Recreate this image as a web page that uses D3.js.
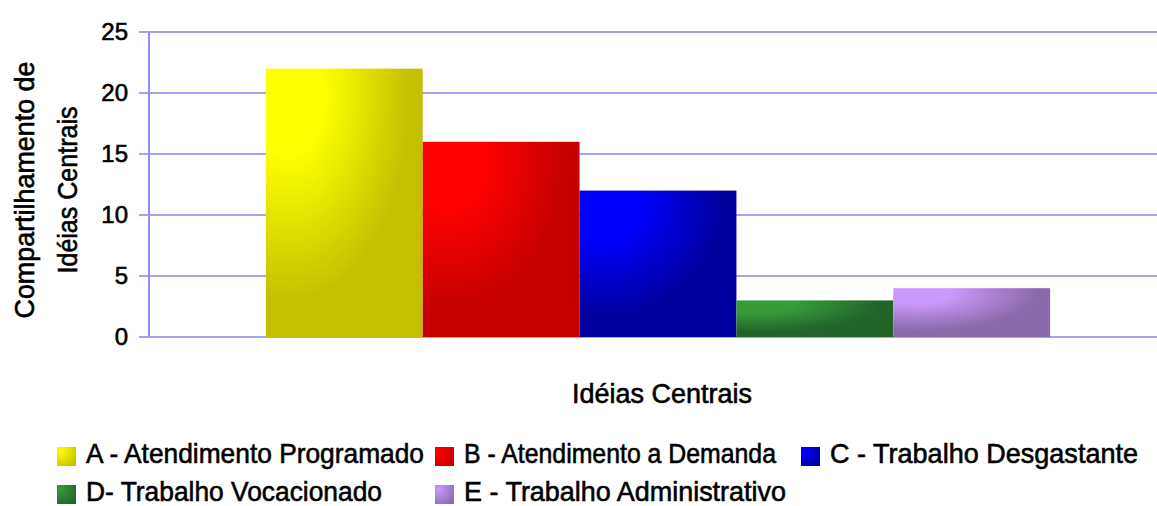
<!DOCTYPE html>
<html><head><meta charset="utf-8">
<script src="https://cdn.jsdelivr.net/npm/d3@7"></script>
<style>
html,body{margin:0;padding:0;background:#fff;}
text{font-family:"Liberation Sans",Arial,sans-serif;}
</style></head>
<body>
<svg id="chart" width="1157" height="506"></svg>
<script>
const seriesNames = ["A - Atendimento Programado","B - Atendimento a Demanda","C - Trabalho Desgastante","D- Trabalho Vocacionado","E - Trabalho Administrativo"];
const seriesValues = [22, 16, 12, 3, 4];
const lightColors = ["#ffff00","#ff0000","#0000ff","#389b38","#c998fa"];
const darkColors = ["#c4c000","#c60000","#00009c","#21642a","#8a6aab"];
const yTicks = [0,5,10,15,20,25];
const yTitleLines = ["Compartilhamento de","Idéias Centrais"];
const xTitle = "Idéias Centrais";

(function(){
const svg = d3.select("#chart");
const mLeft = 149, mRight = 1167, mTop = 32, mBottom = 337;
// layout: fitted text widths (px) for the narrow font of the original
const legendWidths = [338, 312, 308, 296, 322];
const legPos = [[57,463],[435,463],[801,463],[57,501],[435,501]];
const textStroke = 0.6;

const defs = svg.append("defs");
seriesNames.forEach((s,i)=>{
  const g = defs.append("radialGradient").attr("id","g"+i)
    .attr("cx",0.15).attr("cy",0.1).attr("fx",0.15).attr("fy",0.1).attr("r",0.9);
  g.append("stop").attr("offset",0).attr("stop-color",lightColors[i]);
  g.append("stop").attr("offset",0.25).attr("stop-color",lightColors[i]);
  g.append("stop").attr("offset",0.85).attr("stop-color",darkColors[i]);
  g.append("stop").attr("offset",1).attr("stop-color",darkColors[i]);
  const lg = defs.append("radialGradient").attr("id","l"+i)
    .attr("cx",0.2).attr("cy",0.2).attr("r",1);
  lg.append("stop").attr("offset",0).attr("stop-color",lightColors[i]);
  lg.append("stop").attr("offset",1).attr("stop-color",darkColors[i]);
});

const y = d3.scaleLinear().domain([0,25]).range([mBottom,mTop]);
const x = d3.scaleBand().domain(seriesNames).range([mLeft,mRight]).paddingInner(0).paddingOuter(0.745);

svg.append("g").selectAll("line").data(yTicks).join("line")
  .attr("x1",mLeft-10).attr("x2",1157).attr("y1",d=>y(d)).attr("y2",d=>y(d))
  .attr("stroke","#a3a3f0").attr("stroke-width",2);

svg.append("g").selectAll("rect").data(seriesValues).join("rect")
  .attr("x",(d,i)=>x(seriesNames[i])).attr("width",x.bandwidth())
  .attr("y",d=>y(d)).attr("height",d=>mBottom-y(d))
  .attr("fill",(d,i)=>`url(#g${i})`);

svg.append("line").attr("x1",mLeft).attr("x2",mLeft).attr("y1",mTop).attr("y2",mBottom)
  .attr("stroke","#8c8cf5").attr("stroke-width",2);

const yAxis = d3.axisLeft(y).tickValues(yTicks).tickSize(0).tickPadding(0);
const ya = svg.append("g").attr("transform",`translate(${mLeft-21},0)`).call(yAxis);
ya.select(".domain").remove();
ya.selectAll("text").attr("font-size",24).attr("fill","#000")
  .attr("stroke","#000").attr("stroke-width",textStroke)
  .style("font-family",'"Liberation Sans",Arial,sans-serif');

const yt = svg.append("text").attr("transform","rotate(-90)")
  .attr("text-anchor","middle").attr("font-size",28).attr("fill","#000")
  .attr("stroke","#000").attr("stroke-width",textStroke);
const ytW = [257, 167], ytX = [34, 77];
yt.selectAll("tspan").data(yTitleLines).join("tspan")
  .attr("x",-190).attr("y",(d,i)=>ytX[i])
  .attr("textLength",(d,i)=>ytW[i]).attr("lengthAdjust","spacingAndGlyphs").text(d=>d);

svg.append("text").attr("x",662).attr("y",403).attr("text-anchor","middle")
  .attr("font-size",27).attr("fill","#000").attr("stroke","#000").attr("stroke-width",textStroke)
  .attr("textLength",180).attr("lengthAdjust","spacingAndGlyphs").text(xTitle);

const leg = svg.append("g").selectAll("g").data(seriesNames).join("g")
  .attr("transform",(d,i)=>`translate(${legPos[i][0]},${legPos[i][1]})`);
leg.append("rect").attr("x",0).attr("y",-16).attr("width",19).attr("height",19)
  .attr("fill",(d,i)=>`url(#l${i})`);
leg.append("text").attr("x",29).attr("y",0).attr("font-size",28).attr("fill","#000")
  .attr("stroke","#000").attr("stroke-width",textStroke)
  .attr("textLength",(d,i)=>legendWidths[i]).attr("lengthAdjust","spacingAndGlyphs").text(d=>d);
})();
</script>
</body></html>
